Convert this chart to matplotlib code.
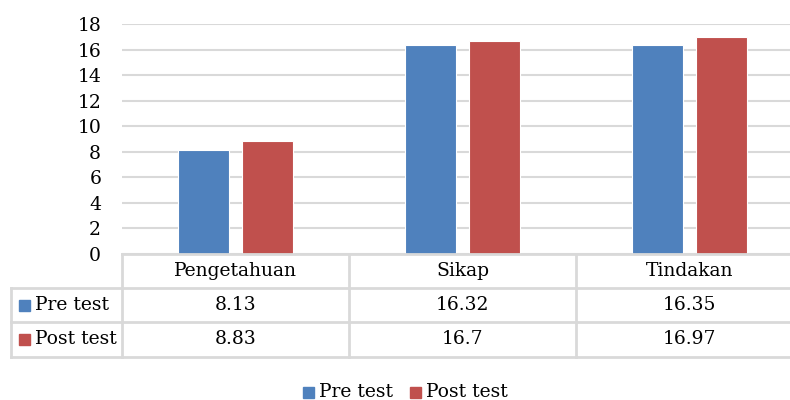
import matplotlib
matplotlib.use("Agg")
import matplotlib.pyplot as plt
from matplotlib.patches import Rectangle
from matplotlib.lines import Line2D

categories = ["Pengetahuan", "Sikap", "Tindakan"]
pre_test = [8.13, 16.32, 16.35]
post_test = [8.83, 16.7, 16.97]
pre_labels = ["8.13", "16.32", "16.35"]
post_labels = ["8.83", "16.7", "16.97"]
series_names = ["Pre test", "Post test"]
colors = ["#4F81BD", "#C0504D"]
y_ticks = [0, 2, 4, 6, 8, 10, 12, 14, 16, 18]

plt.rcParams['font.family'] = ['DejaVu Serif']
FS = 13.5
GRID = "#D9D9D9"

W, H = 790, 400
fig = plt.figure(figsize=(W / 100, H / 100), dpi=100)

def fx(px):
    return px / W

def fy(py):
    return 1 - py / H

# plot area in pixels
left, right, top, base = 122, 803, 24, 254
ax = fig.add_axes([fx(left), fy(base), fx(right - left), (base - top) / H])
ax.set_xlim(-0.5, len(categories) - 0.5)
ax.set_ylim(0, 18)
for s in ax.spines.values():
    s.set_visible(False)
ax.set_xticks([])
ax.set_yticks(y_ticks)
ax.set_yticklabels([str(t) for t in y_ticks], fontsize=FS)
ax.tick_params(axis='y', length=0, pad=15)
ax.yaxis.grid(True, color=GRID, linewidth=1.5)
ax.set_axisbelow(True)

x = list(range(len(categories)))
bw = 0.225
off = 0.141
ax.bar([i - off for i in x], pre_test, width=bw, color=colors[0], edgecolor="white", linewidth=0.8, zorder=3)
ax.bar([i + off for i in x], post_test, width=bw, color=colors[1], edgecolor="white", linewidth=0.8, zorder=3)

# data table
row_y = [254, 288, 322, 357]
label_left = 11
col_w = (right - left) / len(categories)

def hline(y, x0, x1):
    fig.add_artist(Line2D([fx(x0), fx(x1)], [fy(y), fy(y)], color=GRID, linewidth=2))

def vline(xp, y0, y1):
    fig.add_artist(Line2D([fx(xp), fx(xp)], [fy(y0), fy(y1)], color=GRID, linewidth=2))

hline(row_y[0], left, right)
for y in row_y[1:]:
    hline(y, label_left, right)
vline(label_left, row_y[1], row_y[3])
for i in range(len(categories) + 1):
    vline(left + i * col_w, row_y[0], row_y[3])

for i, c in enumerate(categories):
    cx = left + (i + 0.5) * col_w
    fig.text(fx(cx), fy((row_y[0] + row_y[1]) / 2), c, ha='center', va='center', fontsize=FS)
    fig.text(fx(cx), fy((row_y[1] + row_y[2]) / 2), pre_labels[i], ha='center', va='center', fontsize=FS)
    fig.text(fx(cx), fy((row_y[2] + row_y[3]) / 2), post_labels[i], ha='center', va='center', fontsize=FS)

sq = 11
for r, name in enumerate(series_names):
    cy = (row_y[r + 1] + row_y[r + 2]) / 2
    fig.add_artist(Rectangle((fx(19), fy(cy + sq / 2)), sq / W, sq / H, color=colors[r]))
    fig.text(fx(35), fy(cy), name, ha='left', va='center', fontsize=FS)

# legend at bottom
leg_y = 392
leg_x = [303, 410]
for r, name in enumerate(series_names):
    fig.add_artist(Rectangle((fx(leg_x[r]), fy(leg_y + sq / 2)), sq / W, sq / H, color=colors[r]))
    fig.text(fx(leg_x[r] + 16), fy(leg_y), name, ha='left', va='center', fontsize=FS)

fig.savefig("out.png", dpi=100)
